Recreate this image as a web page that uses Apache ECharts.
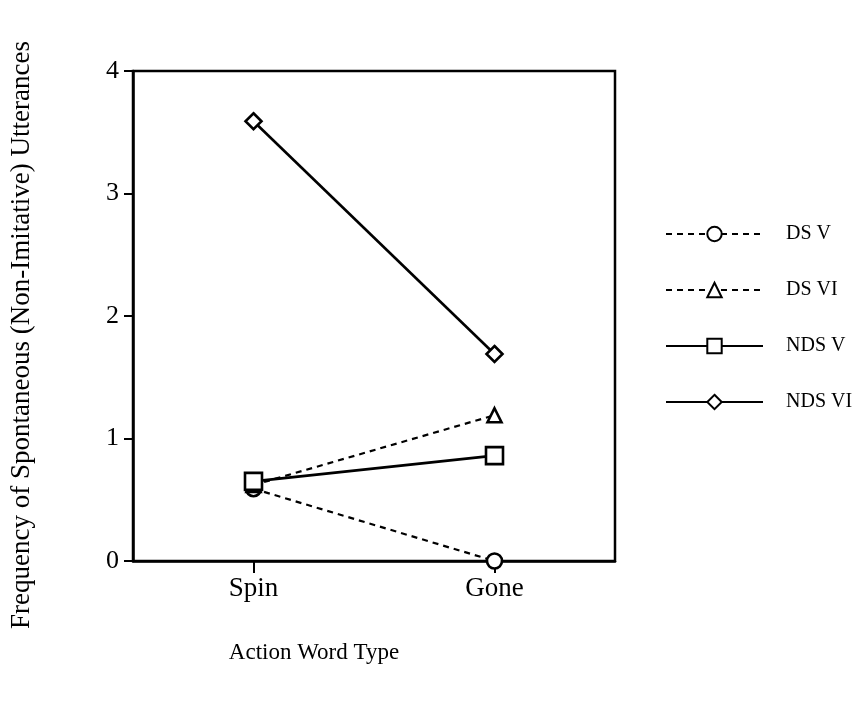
<!DOCTYPE html>
<html>
<head>
<meta charset="utf-8">
<script src="https://cdn.jsdelivr.net/npm/echarts@6/dist/echarts.min.js"></script>
<style>
html,body{margin:0;padding:0;background:#fff;}
#chart{width:855px;height:717px;}
</style>
</head>
<body>
<div id="chart"></div>
<script>
const categories = ['Spin', 'Gone'];
const seriesNames = ['DS V', 'DS VI', 'NDS V', 'NDS VI'];
const dsV = [0.59, 0.0];
const dsVI = [0.62, 1.19];
const ndsV = [0.65, 0.86];
const ndsVI = [3.59, 1.69];
const yTicks = [0, 1, 2, 3, 4];

const FONT = "'Liberation Serif', 'Times New Roman', serif";
const chart = echarts.init(document.getElementById('chart'));

function mk(name, data, symbol, size, dashed) {
  return {
    name: name,
    type: 'line',
    data: data,
    symbol: symbol,
    symbolSize: size,
    showSymbol: true,
    lineStyle: { color: '#000', width: dashed ? 2.2 : 2.6, type: dashed ? [6, 5] : 'solid' },
    itemStyle: { color: '#fff', borderColor: '#000', borderWidth: 2.6 },
    emphasis: { disabled: true },
    z: 3
  };
}

chart.setOption({
  animation: false,
  backgroundColor: '#fff',
  grid: {
    left: 128, top: 71, right: 240, bottom: 156,
    show: true, borderColor: '#000', borderWidth: 2.5, backgroundColor: 'transparent'
  },
  legend: {
    orient: 'vertical',
    left: 660,
    top: 219,
    itemWidth: 97,
    itemHeight: 18,
    itemGap: 36,
    data: seriesNames,
    textStyle: { fontFamily: FONT, fontSize: 20, color: '#000', padding: [0, 0, 0, 18] },
    selectedMode: false
  },
  xAxis: {
    type: 'category',
    data: categories,
    boundaryGap: true,
    name: 'Action Word Type',
    nameLocation: 'middle',
    nameGap: 80,
    nameTextStyle: { fontFamily: FONT, fontSize: 23, color: '#000', padding: [0, 120, 0, 0] },
    axisLine: { lineStyle: { color: '#000', width: 2.5 } },
    axisTick: { show: true, alignWithLabel: true, length: 12, lineStyle: { color: '#000', width: 2 } },
    axisLabel: { fontFamily: FONT, fontSize: 27, color: '#000', margin: 14 },
    splitLine: { show: false }
  },
  yAxis: {
    type: 'value',
    min: 0, max: 4, interval: 1,
    name: 'Frequency of Spontaneous (Non-Imitative) Utterances',
    nameLocation: 'middle',
    nameGap: 98,
    nameTextStyle: { fontFamily: FONT, fontSize: 27, color: '#000', padding: [0, 38, 0, 0] },
    axisLine: { show: true, lineStyle: { color: '#000', width: 2.5 } },
    axisTick: { show: true, length: 9, lineStyle: { color: '#000', width: 2 } },
    axisLabel: { fontFamily: FONT, fontSize: 26, color: '#000', margin: 14,
      formatter: function (v) { return yTicks.indexOf(v) >= 0 ? String(v) : ''; } },
    splitLine: { show: false }
  },
  series: [
    mk('DS V', dsV, 'circle', 15, true),
    mk('DS VI', dsVI, 'triangle', 14, true),
    mk('NDS V', ndsV, 'rect', 17, false),
    mk('NDS VI', ndsVI, 'diamond', 16, false)
  ]
});
</script>
</body>
</html>
